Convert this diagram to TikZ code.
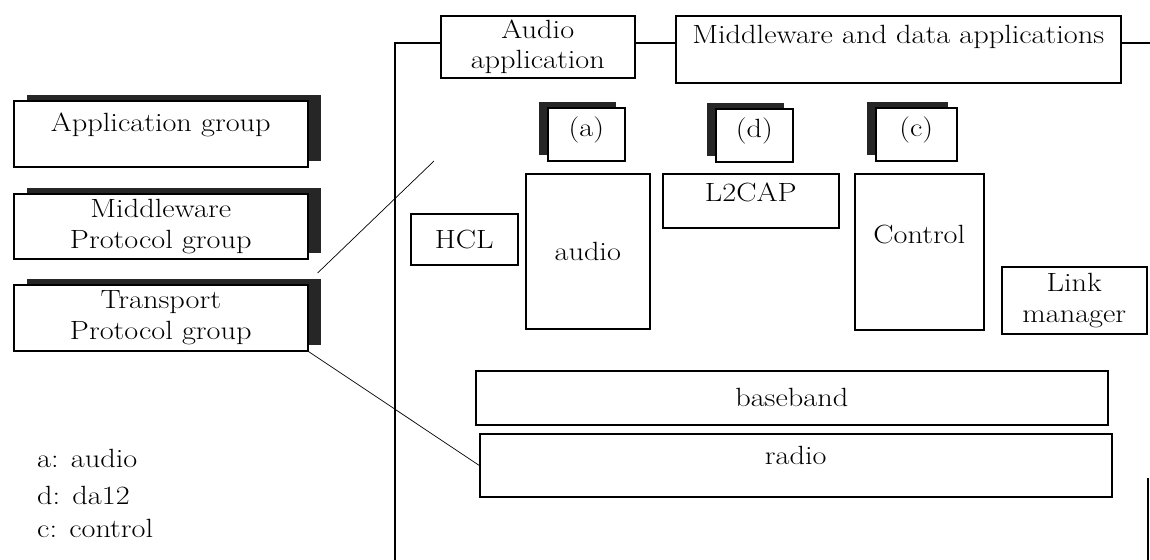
\documentclass[tikz,border=0pt]{standalone}
\usepackage{fontspec}
\setmainfont{Latin Modern Roman}[FakeStretch=1.15]
\usetikzlibrary{shadows}

\tikzset{
  box/.style={draw, line width=0.9pt, fill=white, anchor=north west, align=center, inner sep=1pt},
  grpbox/.style={box, general shadow={fill=black!85, shadow xshift=0.26cm, shadow yshift=0.12cm}},
  tagbox/.style={box, general shadow={fill=black!85, shadow xshift=-0.18cm, shadow yshift=0.12cm}},
  raise/.style={text depth=#1},
  thinline/.style={line width=0.4pt}
}

\begin{document}
\begin{tikzpicture}[font=\fontsize{15}{17.5}\selectfont]
  \useasboundingbox (0,0) rectangle (23,-11.2);

  % protocol groups on the left
  \node[grpbox, minimum width=5.88cm, minimum height=1.32cm, raise=0.45cm] (grpapp) at (0.26,-2.00) {Application group};
  \node[grpbox, minimum width=5.88cm, minimum height=1.30cm] (grpmid) at (0.26,-3.86) {Middleware\\Protocol group};
  \node[grpbox, minimum width=5.88cm, minimum height=1.32cm] (grptra) at (0.26,-5.68) {Transport\\Protocol group};

  % legend
  \node[anchor=west] (leg1) at (0.62,-9.16) {a: audio};
  \node[anchor=west] (leg2) at (0.62,-9.90) {d: da12};
  \node[anchor=west] (leg3) at (0.62,-10.56) {c: control};

  % frame of the stack
  \coordinate (ftl) at (7.90,-0.86);
  \coordinate (fbl) at (7.90,-11.2);
  \coordinate (ftr) at (23.0,-0.86);
  \coordinate (frt) at (22.96,-9.56);
  \coordinate (frb) at (22.96,-11.2);

  % applications on top
  \node[box, minimum width=3.88cm, minimum height=1.24cm] (audapp) at (8.80,-0.30) {Audio\\application};
  \node[box, minimum width=8.90cm, minimum height=1.34cm, raise=0.6cm] (mdwapp) at (13.50,-0.30) {Middleware and data applications};

  \draw[line width=0.9pt] (fbl) -- (ftl) -- (ftl -| audapp.west);
  \draw[line width=0.9pt] (audapp.east |- ftl) -- (mdwapp.west |- ftl);
  \draw[line width=0.9pt] (mdwapp.east |- ftl) -- (ftr);
  \draw[line width=0.9pt] (frt) -- (frb);

  % service tags
  \node[tagbox, minimum width=1.54cm, minimum height=1.06cm, raise=0.3cm] (taga) at (10.94,-2.14) {(a)};
  \node[tagbox, minimum width=1.54cm, minimum height=1.06cm, raise=0.3cm] (tagd) at (14.30,-2.16) {(d)};
  \node[tagbox, minimum width=1.62cm, minimum height=1.06cm, raise=0.3cm] (tagc) at (17.50,-2.14) {(c)};

  % protocol layers
  \node[box, minimum width=2.14cm, minimum height=1.02cm] (hcl) at (8.20,-4.26) {HCL};
  \node[box, minimum width=2.48cm, minimum height=3.10cm] (audio) at (10.50,-3.46) {audio};
  \node[box, minimum width=3.52cm, minimum height=1.08cm, raise=0.35cm] (l2cap) at (13.24,-3.46) {L2CAP};
  \node[box, minimum width=2.58cm, minimum height=3.12cm, raise=0.7cm] (control) at (17.08,-3.46) {Control};
  \node[box, minimum width=2.90cm, minimum height=1.34cm] (linkmgr) at (20.02,-5.32) {Link\\manager};
  \node[box, minimum width=12.64cm, minimum height=1.08cm] (baseband) at (9.50,-7.40) {baseband};
  \node[box, minimum width=12.64cm, minimum height=1.26cm, raise=0.4cm] (radio) at (9.58,-8.66) {radio};

  % pointers from the transport group
  \coordinate (tratop) at (8.68,-3.22);
  \draw[thinline] ([xshift=0.18cm,yshift=0.22cm]grptra.north east) -- (tratop);
  \draw[thinline] (grptra.south east) -- (radio.west);
\end{tikzpicture}
\end{document}
